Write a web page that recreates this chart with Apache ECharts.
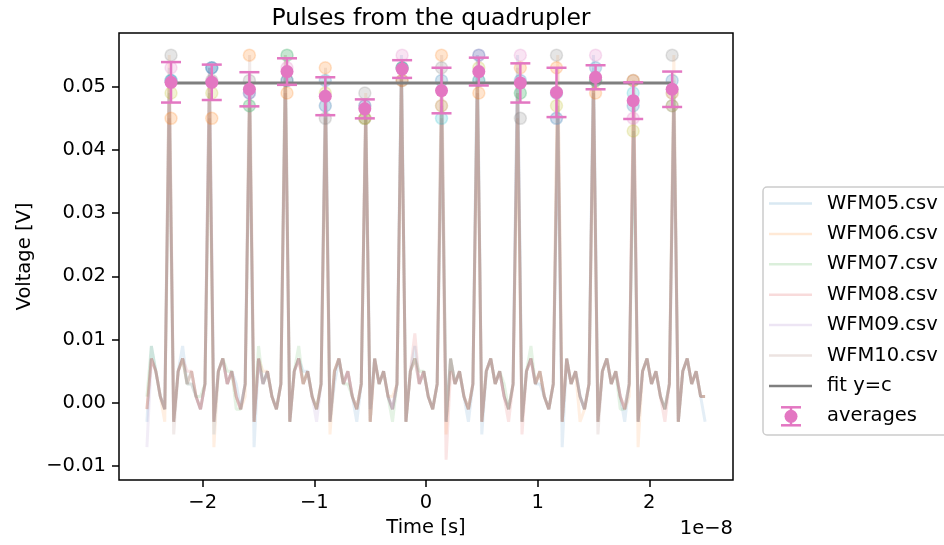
<!DOCTYPE html>
<html><head><meta charset="utf-8">
<script src="https://cdn.jsdelivr.net/npm/echarts@6/dist/echarts.min.js"></script>
<style>html,body{margin:0;padding:0;background:#fff}#c{width:944px;height:545px}</style>
</head><body><div id="c"></div>
<script>
// sample times, in units of 1e-8 s
const time = [-2.50,-2.46,-2.42,-2.38,-2.34,-2.30,-2.26,-2.22,-2.18,-2.14,-2.10,-2.06,-2.02,-1.98,-1.94,-1.90,-1.86,-1.82,-1.78,-1.74,-1.70,-1.66,-1.62,-1.58,-1.54,-1.50,-1.46,-1.42,-1.38,-1.34,-1.30,-1.26,-1.22,-1.18,-1.14,-1.10,-1.06,-1.02,-0.98,-0.94,-0.90,-0.86,-0.82,-0.78,-0.74,-0.70,-0.66,-0.62,-0.58,-0.54,-0.50,-0.46,-0.42,-0.38,-0.34,-0.30,-0.26,-0.22,-0.18,-0.14,-0.10,-0.06,-0.02,0.02,0.06,0.10,0.14,0.18,0.22,0.26,0.30,0.34,0.38,0.42,0.46,0.50,0.54,0.58,0.62,0.66,0.70,0.74,0.78,0.82,0.86,0.90,0.94,0.98,1.02,1.06,1.10,1.14,1.18,1.22,1.26,1.30,1.34,1.38,1.42,1.46,1.50,1.54,1.58,1.62,1.66,1.70,1.74,1.78,1.82,1.86,1.90,1.94,1.98,2.02,2.06,2.10,2.14,2.18,2.22,2.26,2.30,2.34,2.38,2.42,2.46,2.50];

// waveforms, in mV
const wfm05 = [-3,9,5,1,-1, 53, -3,5,9,3,5,1,-1,3, 53, -5,5,7,3,5,3,-1,3, 49, -7,7,3,5,1,-1,3, 53, -3,5,7,5,5,1,-1,3, 47, -3,3,7,3,5,1,-3,3, 47, -1,7,3,5,1,-1,3, 55, -3,5,9,3,5,1,-1,3, 47, -3,7,3,5,1,-3,3, 55, -5,5,7,3,5,1,-1,3, 55, -3,5,7,3,3,1,-1,3, 45, -7,7,3,5,1,-1,3, 55, -3,5,7,3,5,1,-3,3, 45, -3,5,7,3,5,1,-1,3, 49, -3,5,7,3,5,1,-3];
const wfm06 = [-1,7,5,1,-3, 55, -3,5,7,3,5,1,-1,3, 51, -7,5,7,3,5,1,-1,1, 51, -3,7,5,5,1,-1,3, 51, -3,5,7,3,5,1,-1,3, 45, -5,5,7,3,5,1,-1,3, 49, -3,7,3,5,1,1,3, 51, -3,5,7,3,5,1,-1,3, 53, -5,7,3,5,1,-1,3, 51, -3,5,7,3,5,1,-1,3, 45, -3,5,7,3,5,1,-1,3, 55, -3,7,3,5,-3,-1,3, 51, -3,5,7,3,5,1,-1,1, 51, -7,5,7,3,5,1,-1,3, 55, -3,5,7,3,5,1,1];
const wfm07 = [1,9,5,1,-1, 49, -3,5,7,3,3,1,1,3, 49, -3,5,7,5,5,-1,-1,3, 47, -3,9,3,5,1,-1,3, 55, -3,5,9,3,5,1,-1,3, 49, -3,5,7,3,3,1,-1,3, 45, -3,7,3,5,1,-3,3, 53, -3,5,7,5,5,1,-1,3, 47, -3,7,3,5,1,-1,3, 53, -3,5,7,3,5,3,-1,3, 49, -3,5,9,3,5,1,-1,3, 47, -3,7,3,5,1,-1,3, 51, -3,5,7,3,5,-1,-1,3, 43, -3,5,7,3,5,1,-1,3, 49, -3,5,7,3,5,1,1];
const wfm08 = [-1,7,5,1,-1, 51, -3,5,7,5,5,1,-1,3, 53, -3,5,7,3,5,1,-1,3, 47, -3,7,3,5,1,-1,3, 55, -3,5,7,3,5,1,-1,3, 47, -3,5,7,3,5,1,-1,3, 45, -3,7,3,5,1,-1,3, 53, -3,5,11,3,5,1,-1,3, 45, -9,5,3,5,1,-1,3, 51, -3,5,7,3,5,1,-3,3, 49, -5,5,7,3,5,1,-1,3, 45, -3,7,3,5,1,-1,3, 51, -3,5,7,3,5,1,-1,3, 49, -3,5,7,3,5,1,-3,3, 47, -3,5,7,3,5,1,1];
const wfm09 = [-7,7,5,1,-1, 51, -3,5,7,3,3,1,-1,3, 53, -3,5,7,3,5,1,-1,3, 49, -3,7,3,5,1,-1,3, 51, -3,5,7,3,5,1,-3,3, 51, -3,5,7,3,5,1,-1,3, 47, -3,7,3,5,1,-1,3, 53, -3,5,7,3,5,1,-1,3, 51, -3,7,3,5,1,-1,3, 55, -3,5,7,3,5,1,-1,3, 51, -3,5,7,3,5,1,-1,3, 49, -3,7,3,5,1,-1,3, 53, -3,5,7,3,5,1,-1,3, 47, -3,5,7,3,5,1,-1,3, 51, -3,5,7,3,5,1,1];
const wfm10 = [-1,7,5,1,-1, 45, -5,5,7,3,5,1,-1,3, 45, -3,5,7,3,5,1,-1,3, 55, -3,7,3,5,1,-1,3, 49, -3,5,7,3,5,1,-1,3, 53, -3,5,7,3,5,1,-1,3, 45, -3,7,3,5,1,-1,3, 51, -3,5,7,3,5,1,-1,3, 55, -3,7,3,5,1,-1,3, 49, -3,5,7,3,5,1,-1,3, 53, -3,5,7,3,5,1,-1,3, 53, -3,7,3,5,1,-1,3, 49, -5,5,7,3,5,1,-1,3, 51, -3,5,7,3,5,1,-1,3, 47, -3,5,7,3,5,1,1];

// peak times (1e-8 s) and per-file peak heights (mV)
const peakTimes = [-2.284,-1.919,-1.582,-1.245,-0.902,-0.548,-0.214,0.139,0.473,0.845,1.169,1.519,1.856,2.205];
const peaks05 = [53,53,49,53,47,47,55,47,55,55,45,55,45,49];
const peaks06 = [55,51,51,51,45,49,51,53,51,45,55,51,51,55];
const peaks07 = [49,49,47,55,49,45,53,47,53,49,47,51,43,49];
const peaks08 = [51,53,47,55,47,45,53,45,51,49,45,51,49,47];
const peaks09 = [51,53,49,51,51,47,53,51,55,51,49,53,47,51];
const peaks10 = [45,45,55,49,53,45,51,55,49,53,53,49,51,47];

// averages and their errors (mV), fit constant (mV)
const avgValues = [50.7,50.7,49.6,52.4,48.5,46.5,52.8,49.4,52.4,50.6,49.1,51.5,47.8,49.6];
const avgErrors = [3.2,2.8,2.7,2.1,3.0,1.5,1.4,3.6,2.2,3.1,3.9,1.9,2.9,2.8];
const fitC = 50.6;

const fileNames = ['WFM05.csv','WFM06.csv','WFM07.csv','WFM08.csv','WFM09.csv','WFM10.csv'];
const xTicks = [-2,-1,0,1,2];
const yTicks = [-0.01,0,0.01,0.02,0.03,0.04,0.05];

const waves = [wfm05,wfm06,wfm07,wfm08,wfm09,wfm10];
const peakSets = [peaks05,peaks06,peaks07,peaks08,peaks09,peaks10];
const lineColors = ['#1f77b4','#ff7f0e','#2ca02c','#d62728','#9467bd','#8c564b'];
const peakColors = ['#e377c2','#7f7f7f','#bcbd22','#17becf','#1f77b4','#ff7f0e'];
const avgColor = '#e377c2', fitColor = '#7f7f7f';
const FONT = 'DejaVu Sans';
const LINE_ALPHA = 0.12, LEGEND_ALPHA = 0.17;
const mV = v => v / 1000;
const minus = s => String(s).replace('-', '\u2212');

const series = [];
waves.forEach((w, i) => {
  series.push({
    name: fileNames[i], type: 'line', symbol: 'none', z: 2,
    data: time.map((t, k) => [t, mV(w[k])]),
    lineStyle: { color: lineColors[i], width: 3, opacity: LINE_ALPHA },
    itemStyle: { color: lineColors[i] }
  });
});
peakSets.forEach((p, i) => {
  series.push({
    name: fileNames[i] + ' peaks', type: 'scatter', symbolSize: 12, z: 3,
    data: peakTimes.map((t, k) => [t, mV(p[k])]),
    itemStyle: { color: peakColors[i], opacity: 0.2, borderColor: peakColors[i], borderWidth: 1.5 }
  });
});
series.push({
  name: 'fit y=c', type: 'line', symbol: 'none', z: 4,
  data: [[peakTimes[0], mV(fitC)], [peakTimes[peakTimes.length - 1], mV(fitC)]],
  lineStyle: { color: fitColor, width: 3 }
});
series.push({
  name: 'averages err', type: 'custom', z: 5,
  data: peakTimes.map((t, k) => [t, mV(avgValues[k]), mV(avgErrors[k])]),
  renderItem: (params, api) => {
    const x = api.value(0), y = api.value(1), e = api.value(2);
    const a = api.coord([x, y + e]), b = api.coord([x, y - e]);
    const hw = 10, st = { stroke: avgColor, lineWidth: 2.5 };
    return { type: 'group', children: [
      { type: 'line', shape: { x1: a[0], y1: a[1], x2: b[0], y2: b[1] }, style: st },
      { type: 'line', shape: { x1: a[0] - hw, y1: a[1], x2: a[0] + hw, y2: a[1] }, style: st },
      { type: 'line', shape: { x1: b[0] - hw, y1: b[1], x2: b[0] + hw, y2: b[1] }, style: st }
    ]};
  }
});
series.push({
  name: 'averages', type: 'scatter', symbolSize: 13, z: 6,
  data: peakTimes.map((t, k) => [t, mV(avgValues[k])]),
  itemStyle: { color: avgColor, opacity: 1 }
});

// legend drawn as graphics
const legendEntries = fileNames.map((n, i) => ({ name: n, kind: 'line', color: lineColors[i], opacity: LEGEND_ALPHA }))
  .concat([{ name: 'fit y=c', kind: 'line', color: fitColor, opacity: 1 }, { name: 'averages', kind: 'avg' }]);
const lg = { x: 763, y: 187, rowH: 30.4, firstY: 203.5 };
const graphics = [{
  type: 'rect', shape: { x: lg.x, y: lg.y, width: 200, height: 248, r: 4 },
  style: { fill: 'rgba(255,255,255,0.8)', stroke: '#cccccc', lineWidth: 1.5 }, z: 10
}];
legendEntries.forEach((e, i) => {
  const cy = lg.firstY + i * lg.rowH;
  if (e.kind === 'line') {
    graphics.push({ type: 'line', shape: { x1: 769, y1: cy, x2: 812, y2: cy },
      style: { stroke: e.color, lineWidth: 2.5, opacity: e.opacity }, z: 11 });
  } else {
    const cx = 791;
    const st = { stroke: avgColor, lineWidth: 2.5 };
    graphics.push({ type: 'line', shape: { x1: cx, y1: cy - 9, x2: cx, y2: cy + 9 }, style: st, z: 11 });
    graphics.push({ type: 'line', shape: { x1: cx - 10, y1: cy - 9, x2: cx + 10, y2: cy - 9 }, style: st, z: 11 });
    graphics.push({ type: 'line', shape: { x1: cx - 10, y1: cy + 9, x2: cx + 10, y2: cy + 9 }, style: st, z: 11 });
    graphics.push({ type: 'circle', shape: { cx: cx, cy: cy, r: 6.5 }, style: { fill: avgColor }, z: 12 });
  }
  graphics.push({ type: 'text', x: 827, y: cy, z: 11,
    style: { text: e.name, fontFamily: FONT, fontSize: 19.5, fill: '#000', verticalAlign: 'middle', align: 'left' } });
});
graphics.push({ type: 'text', x: 733, y: 529, z: 11,
  style: { text: '1e\u22128', fontFamily: FONT, fontSize: 19.5, fill: '#000', verticalAlign: 'middle', align: 'right' } });

const chart = echarts.init(document.getElementById('c'), null, { renderer: 'canvas' });
chart.setOption({
  animation: false,
  backgroundColor: '#fff',
  title: {
    text: 'Pulses from the quadrupler', left: 426, top: 2, textAlign: 'center',
    textStyle: { fontFamily: FONT, fontSize: 23.5, fontWeight: 'normal', color: '#000' }
  },
  grid: { left: 119, right: 211, top: 33, bottom: 65, show: true, borderColor: '#000', borderWidth: 1.5, backgroundColor: 'transparent' },
  xAxis: {
    type: 'value', min: -2.75, max: 2.75,
    name: 'Time [s]', nameLocation: 'middle', nameGap: 37,
    nameTextStyle: { fontFamily: FONT, fontSize: 19.5, color: '#000' },
    axisLine: { show: false, onZero: false },
    axisTick: { show: true, customValues: xTicks, length: 7, lineStyle: { color: '#000', width: 1.5 } },
    axisLabel: { customValues: xTicks, margin: 13, fontFamily: FONT, fontSize: 19.5, color: '#000', formatter: v => minus(v) },
    splitLine: { show: false }
  },
  yAxis: {
    type: 'value', min: -0.0122, max: 0.0585,
    name: 'Voltage [V]', nameLocation: 'middle', nameGap: 83,
    nameTextStyle: { fontFamily: FONT, fontSize: 19.5, color: '#000' },
    axisLine: { show: false, onZero: false },
    axisTick: { show: true, customValues: yTicks, length: 7, lineStyle: { color: '#000', width: 1.5 } },
    axisLabel: { customValues: yTicks, margin: 13, fontFamily: FONT, fontSize: 19.5, color: '#000',
      formatter: v => minus(v.toFixed(2)) },
    splitLine: { show: false }
  },
  series: series,
  graphic: graphics
});
</script></body></html>
